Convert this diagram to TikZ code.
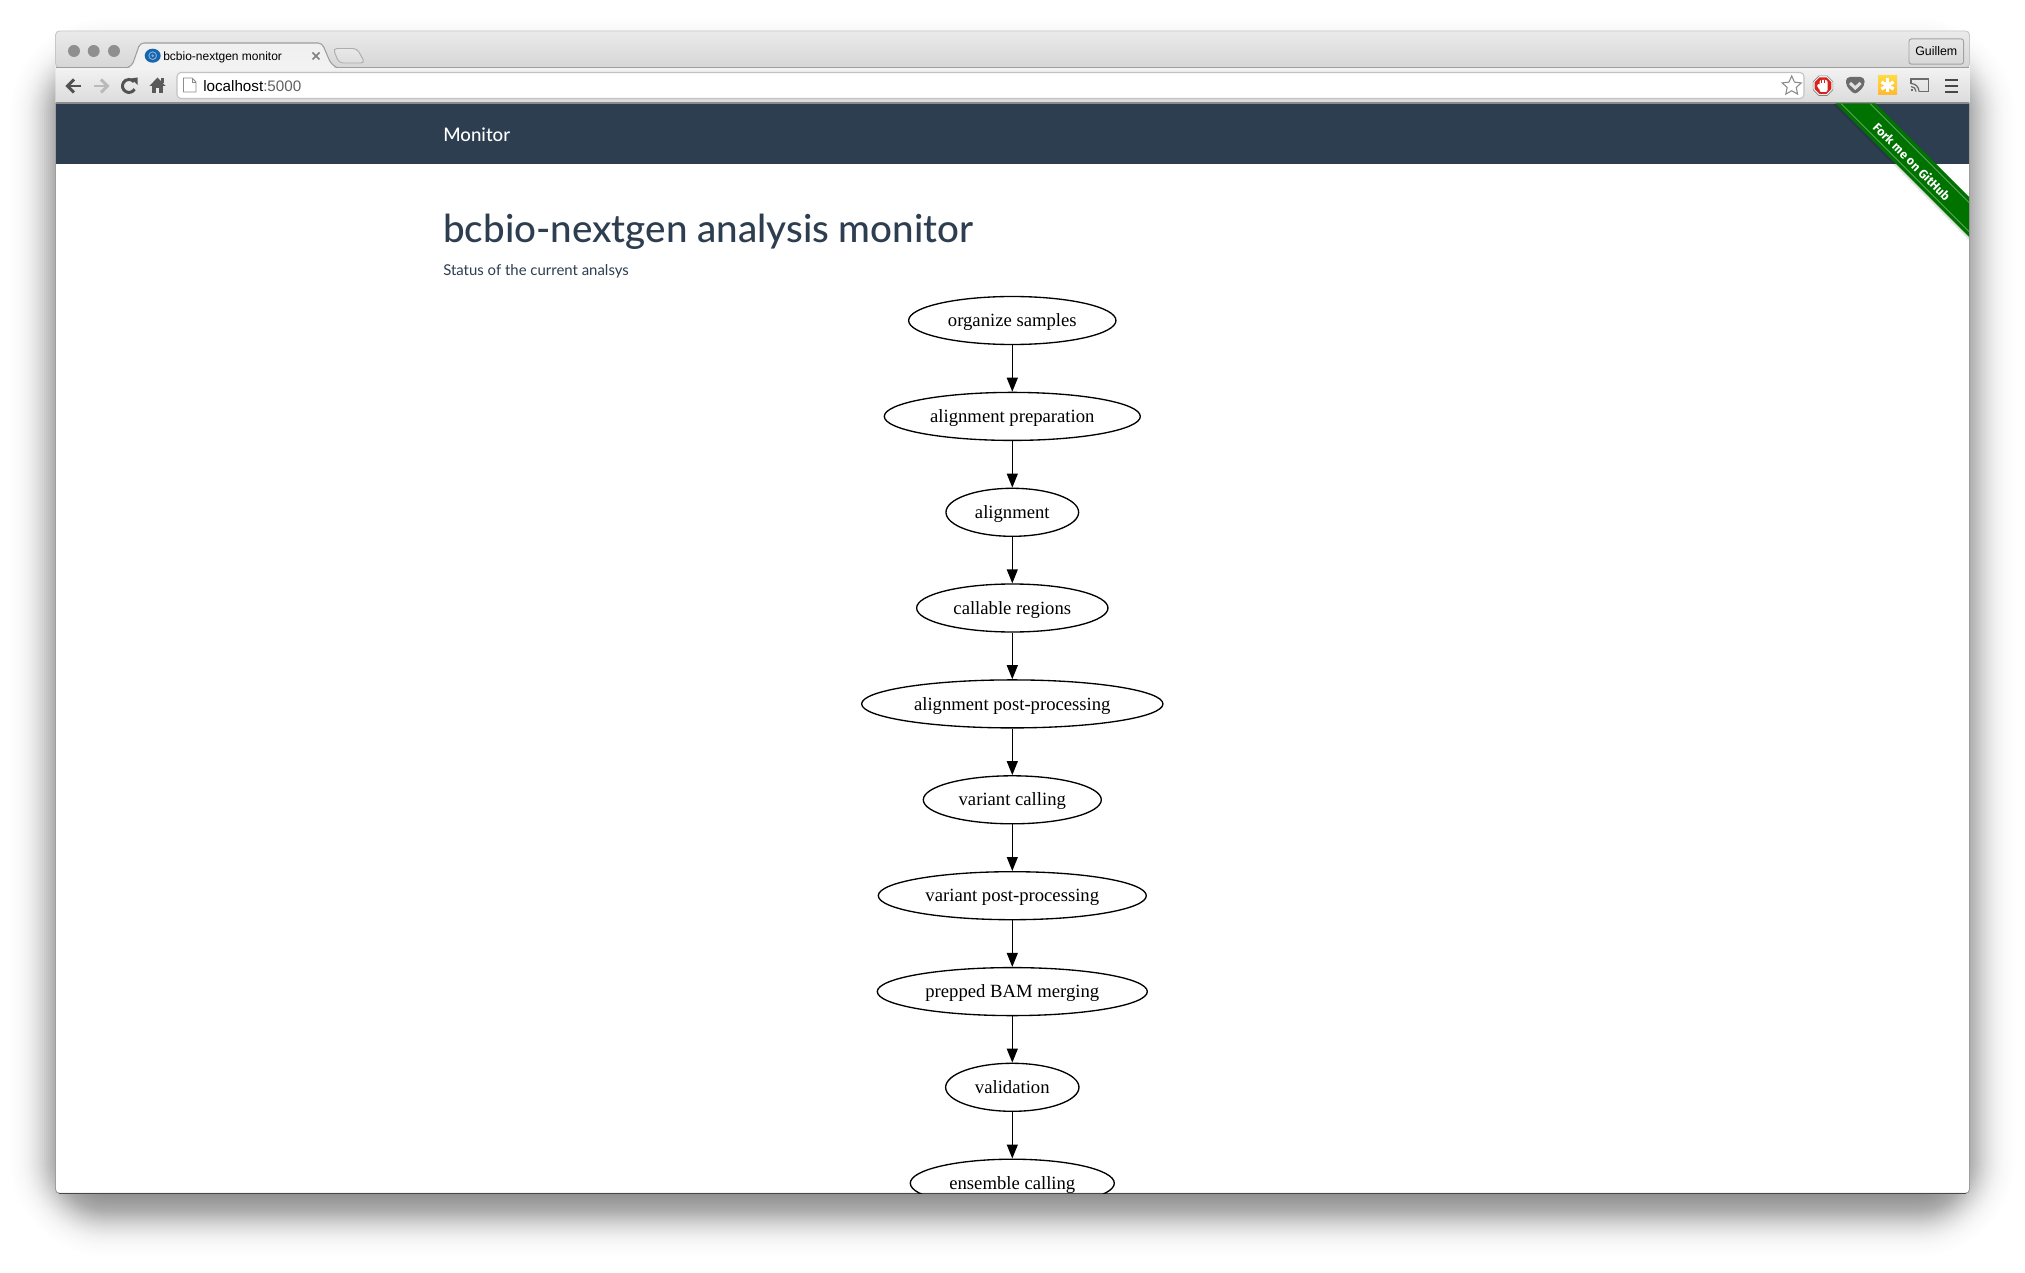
\documentclass[tikz,border=0pt]{standalone}
\usepackage{fontspec}
\setmainfont{Liberation Serif}
\newfontfamily\latofont{Lato}
\newfontfamily\latomedium{Lato Medium}
\newfontfamily\chromefont{Liberation Sans}
\usetikzlibrary{arrows.meta,shapes.geometric}
\definecolor{navy}{HTML}{2C3E50}
\definecolor{ribbongreen}{HTML}{007200}
\definecolor{stitchgreen}{HTML}{5AA55A}
\definecolor{iconblue}{HTML}{1766AD}
\definecolor{iconring}{HTML}{7FB0DC}
\definecolor{stopred}{HTML}{D8221C}
\tikzset{
	stage/.style={draw, ellipse, inner sep=0pt, minimum height=36pt, line width=1pt,
		text height=12.2pt, text depth=3pt, font=\fontsize{14}{16}\selectfont},
	flow/.style={line width=1pt, -{Triangle[length=10.5pt,width=8.2pt]}},
	light/.style={circle, fill=black!44, inner sep=0pt, minimum size=9pt},
	navicon/.style={line width=2.2pt, draw=black!68},
}
\begin{document}
\begin{tikzpicture}[x=0.75pt, y=-0.75pt]
			%%%%% START %%%%%
			\useasboundingbox (0, 0) rectangle (2025, 1273);
			\fill[white] (0, 0) rectangle (2025, 1273);
			
			% window shadow
			\foreach \d in {-50,-48,...,50} {
				\pgfmathsetmacro{\rad}{(\d+55)*0.75}
				\pgfmathsetmacro{\wgt}{0.0245*exp(-\d*\d/700)}
				\fill[black, opacity=\wgt, rounded corners=\rad pt] (52-\d, 60-\d) rectangle (1973+\d, 1214+\d);
			}
			
			% window
			\fill[white, rounded corners=3pt] (55.5, 31) rectangle (1969.5, 1193);
			\draw[black!38, line width=0.7pt, rounded corners=3pt] (55.5, 103) |- (1969.5, 1193.3) -- (1969.5, 103);
			\draw[black!72, line width=0.6pt] (59, 1193.3) -- (1966, 1193.3);
			
			% title bar
			\draw[black!22, top color=black!8, bottom color=black!16, rounded corners=3pt, line width=0.7pt] (55.5, 67.5) |- (1969.5, 31) -- (1969.5, 67.5) -- cycle;
			\fill[top color=black!5, bottom color=black!14] (56, 68) rectangle (1969, 103);
			\draw[black!38, line width=0.8pt] (56, 67.5) -- (1969, 67.5);
			\draw[black!45, line width=0.8pt] (56, 103) -- (1969, 103);
			
			\node[light] (lightclose) at (74, 51) {};
			\node[light] (lightmin) at (93.7, 51) {};
			\node[light] (lightmax) at (114, 51) {};
			
			% tabs
			\draw[black!38, top color=black!6, bottom color=black!5, line width=0.8pt, rounded corners=3pt] (127, 67.6) -- (132, 66) -- (140, 43) -- (322, 43) -- (331, 64) -- (337, 67.6);
			\fill[black!5] (130, 67) rectangle (334, 69);
			\draw[black!32, top color=black!9, bottom color=black!13, line width=0.7pt, rounded corners=3pt] (333, 48.5) -- (357, 48.5) -- (365, 63) -- (339, 63) -- cycle;
			
			\fill[iconblue] (152.7, 55.7) ellipse (8 and 7);
			\draw[iconring, line width=0.7pt] (152.7, 55.7) circle (3.8);
			\fill[iconring] (152.7, 55.7) circle (1.4);
			\node[anchor=base west, inner sep=0pt, font=\chromefont\fontsize{9}{11}\selectfont] (tabtitle) at (163, 61) {bcbio-nextgen monitor};
			\draw[black!50, line width=1.1pt] (312.5, 52.5) -- (319.5, 59.5);
			\draw[black!50, line width=1.1pt] (312.5, 59.5) -- (319.5, 52.5);
			
			% navigation icons
			\draw[navicon] (81, 86) -- (67, 86);
			\draw[navicon] (74, 79.5) -- (67.5, 86) -- (74, 92.5);
			\draw[navicon, draw=black!27] (94, 86) -- (108, 86);
			\draw[navicon, draw=black!27] (101, 79.5) -- (107.5, 86) -- (101, 92.5);
			\draw[navicon] (134.6, 89.2) arc (30:320:6.5);
			\fill[black!68] (131, 78.5) -- (137.5, 77.5) -- (137.5, 85) -- cycle;
			\fill[black!65] (157.5, 77.5) -- (165.5, 86) -- (149.5, 86) -- cycle;
			\fill[black!65] (152, 85) rectangle (163, 93);
			\fill[black!8] (156, 88) rectangle (159, 93);
			\fill[black!65] (161.3, 78) rectangle (163.5, 83);
			
			% address bar
			\draw[black!24, fill=white, rounded corners=3pt, line width=0.8pt] (177, 72.5) rectangle (1804, 98.5);
			\draw[black!45, fill=white, line width=0.7pt] (183.5, 78) -- (192, 78) -- (196, 82) -- (196, 92) -- (183.5, 92) -- cycle;
			\draw[black!45, line width=0.7pt] (192, 78) -- (192, 82) -- (196, 82);
			\node[anchor=base west, inner sep=0pt, font=\chromefont\fontsize{11.4}{13}\selectfont] (urlbar) at (203, 91.5) {localhost\textcolor{black!62}{:5000}};
			
			\node[star, star points=5, star point ratio=2.1, draw=black!45, fill=white, line width=0.8pt, inner sep=0pt, minimum size=15pt] (bookmark) at (1791.7, 86) {};
			
			% extension icons
			\node[regular polygon, regular polygon sides=8, draw=black!50, fill=white, inner sep=0pt, minimum size=16pt, line width=0.5pt] (adblockrim) at (1823, 85.7) {};
			\node[regular polygon, regular polygon sides=8, fill=stopred, inner sep=0pt, minimum size=13.5pt] (adblock) at (1823, 85.7) {};
			\fill[white, rounded corners=1.5pt] (1819.5, 80) rectangle (1827.5, 92);
			\fill[white, rounded corners=1pt] (1816.5, 85) -- (1820, 83.5) -- (1822, 90) -- (1819.5, 90) -- cycle;
			\foreach \x in {1821.5,1823.8} {
				\draw[stopred, line width=0.35pt] (\x, 79.8) -- (\x, 83.5);
			}
			
			\fill[black!58, rounded corners=3pt] (1846, 77) -- (1864.5, 77) -- (1864.5, 86) -- (1855, 95) -- (1846, 86) -- cycle;
			\fill[black!58] (1847, 84) .. controls (1848, 93) and (1862, 93) .. (1863.5, 84) -- cycle;
			\draw[black!12, line width=2.3pt] (1850, 83) -- (1855.3, 88) -- (1860.5, 83);
			
			\fill[top color=yellow!60!orange!75, bottom color=orange!70!yellow!80] (1878, 76) rectangle (1897, 95);
			\foreach \ang in {90,30,-30} {
				\draw[white, line width=2.4pt] (1887.5, 85.5) ++(\ang:7) -- ++(\ang:-14);
			}
			
			\draw[black!58, line width=1.1pt] (1911, 84) -- (1911, 79) -- (1928.5, 79) -- (1928.5, 91.5) -- (1919, 91.5);
			\fill[black!58] (1911, 89.5) rectangle (1913, 91.5);
			\draw[black!58, line width=0.9pt] (1911, 86.5) arc (270:360:5);
			\draw[black!58, line width=0.9pt] (1911, 83.5) arc (270:360:8);
			
			\foreach \y in {80,86,92} {
				\draw[black!72, line width=2.2pt] (1945, \y) -- (1958, \y);
			}
			
			% profile button
			\node[draw=black!36, rounded corners=2pt, line width=0.7pt, minimum width=41pt, minimum height=19pt, inner sep=0pt, font=\chromefont\fontsize{9.3}{11}\selectfont] (profile) at (1936.3, 51.5) {Guillem};
			
			% page
			\fill[navy] (56, 104) rectangle (1969, 164);
			\node[anchor=base west, inner sep=0pt, text=white, font=\latomedium\fontsize{14}{16}\selectfont] (brand) at (443, 141.5) {Monitor};
			\node[anchor=base west, inner sep=0pt, text=navy, font=\latomedium\fontsize{28.9}{32}\selectfont] (heading) at (443, 243) {bcbio-nextgen analysis monitor};
			\node[anchor=base west, inner sep=0pt, text=navy, font=\latofont\fontsize{11.2}{13}\selectfont] (subheading) at (443, 275.5) {Status of the current analsys};
			
			% ribbon
			\fill[black, opacity=0.12] (1835.7, 104) -- (1969, 237.3) -- (1969, 240) -- (1833, 104) -- cycle;
			\fill[ribbongreen] (1835.7, 103.5) -- (1875.7, 103.5) -- (1969, 197) -- (1969, 237) -- cycle;
			\draw[stitchgreen, line width=0.7pt] (1841, 103.5) -- (1969, 231.5);
			\draw[stitchgreen, line width=0.7pt] (1870, 103.5) -- (1969, 202.5);
			\node[rotate=-45, inner sep=0pt, text=white, font=\fontspec{Fira Sans Bold}\fontsize{9.2}{11}\selectfont] (ribbontext) at (1912, 161.5) {Fork me on GitHub};
			
			% graph, cut off by the window
			\begin{scope}
				\clip (56, 164) rectangle (1969, 1193);
				\node[stage, minimum width=155.5pt] (organize) at (1012.3, 320.5) {organize samples};
				\node[stage, minimum width=192pt] (preparation) at (1012.3, 416.4) {alignment preparation};
				\node[stage, minimum width=99.5pt] (alignment) at (1012.3, 512.3) {alignment};
				\node[stage, minimum width=143.5pt] (callable) at (1012.3, 608) {callable regions};
				\node[stage, minimum width=226pt] (postalign) at (1012.3, 703.9) {alignment post-processing};
				\node[stage, minimum width=133.5pt] (variant) at (1012.3, 799.8) {variant calling};
				\node[stage, minimum width=201pt] (postvariant) at (1012.3, 895.7) {variant post-processing};
				\node[stage, minimum width=202.5pt] (merging) at (1012.3, 991.6) {prepped BAM merging};
				\node[stage, minimum width=100pt] (validation) at (1012.3, 1087.3) {validation};
				\node[stage, minimum width=153pt] (ensemble) at (1012.3, 1183.2) {ensemble calling};
				
				\draw[flow] (organize) -- (preparation);
				\draw[flow] (preparation) -- (alignment);
				\draw[flow] (alignment) -- (callable);
				\draw[flow] (callable) -- (postalign);
				\draw[flow] (postalign) -- (variant);
				\draw[flow] (variant) -- (postvariant);
				\draw[flow] (postvariant) -- (merging);
				\draw[flow] (merging) -- (validation);
				\draw[flow] (validation) -- (ensemble);
			\end{scope}
			%%%%% END %%%%%
		\end{tikzpicture}
\end{document}
